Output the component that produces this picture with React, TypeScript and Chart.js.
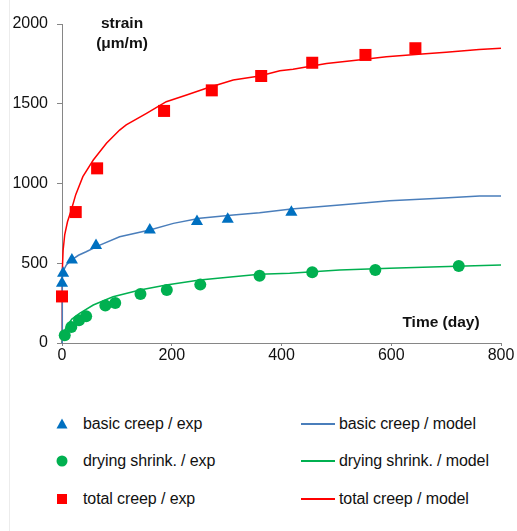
import { useEffect, useRef } from "react";
import { Chart, registerables } from "chart.js";

Chart.register(...registerables);

// Measured strains (µm/m) against time (days)
const basicExpDays = [0, 2, 18, 62, 160, 246, 302, 418];
const basicExpStrain = [375, 437, 520, 612, 708, 761, 776, 820];

const dryingExpDays = [5, 17, 31, 44, 79, 97, 143, 191, 252, 360, 456, 571, 723];
const dryingExpStrain = [49, 100, 142, 168, 235, 251, 307, 332, 366, 421, 443, 458, 483];

const totalExpDays = [0, 25, 64, 186, 273, 363, 456, 553, 644];
const totalExpStrain = [292, 821, 1095, 1455, 1584, 1674, 1757, 1806, 1848];

// Model predictions
const basicModelDays = [0, 0.5, 2, 8, 17, 30, 44, 69, 105, 160, 203, 251, 312, 360, 418, 506, 597, 688, 761, 800];
const basicModelStrain = [0, 400, 450, 490, 520, 550, 572, 614, 666, 708, 750, 782, 802, 817, 840, 865, 892, 907, 922, 922];

const dryingModelDays = [0, 3, 8, 18, 32, 57, 93, 142, 190, 251, 312, 360, 415, 506, 597, 688, 800];
const dryingModelStrain = [0, 60, 102, 150, 186, 238, 290, 332, 364, 395, 416, 431, 437, 458, 468, 478, 489];

const totalModelDays = [0, 0.5, 2, 5, 10, 17, 25, 38, 57, 81, 105, 117, 154, 190, 227, 263, 312, 360, 397, 421, 482, 540, 591, 650, 700, 760, 800];
const totalModelStrain = [0, 450, 580, 680, 760, 834, 930, 1043, 1147, 1252, 1335, 1367, 1440, 1513, 1555, 1597, 1649, 1674, 1707, 1716, 1753, 1775, 1795, 1810, 1823, 1840, 1848];

const BLUE_MARK = "#0070C0";
const BLUE_LINE = "#4A7EBB";
const GREEN = "#00B050";
const RED = "#FF0000";

const FONT = '"Liberation Sans", Arial, sans-serif';

const toPoints = (xs: number[], ys: number[]) => xs.map((x, i) => ({ x, y: ys[i] }));

const axisTitles = {
  id: "axisTitles",
  afterDraw(chart: Chart) {
    const ctx = chart.ctx;
    ctx.save();
    ctx.font = `bold 15.5px ${FONT}`;
    ctx.fillStyle = "#111";
    ctx.textAlign = "center";
    ctx.textBaseline = "middle";
    ctx.fillText("strain", 122, 24);
    ctx.fillText("(μm/m)", 122, 44);
    ctx.fillText("Time (day)", 441, 323);
    ctx.restore();
  },
};

type Row = { exp: string; model: string; markColor: string; lineColor: string; shape: "triangle" | "circle" | "square"; cy: number };

const legendRows: Row[] = [
  { exp: "basic creep / exp", model: "basic creep / model", markColor: BLUE_MARK, lineColor: BLUE_LINE, shape: "triangle", cy: 424 },
  { exp: "drying shrink. / exp", model: "drying shrink. / model", markColor: GREEN, lineColor: GREEN, shape: "circle", cy: 461 },
  { exp: "total creep / exp", model: "total creep / model", markColor: RED, lineColor: RED, shape: "square", cy: 499 },
];

function Marker({ shape, color }: { shape: Row["shape"]; color: string }) {
  return (
    <svg width="12" height="12" viewBox="0 0 12 12" style={{ display: "block" }}>
      {shape === "triangle" && <polygon points="6,0.5 11.5,10.5 0.5,10.5" fill={color} />}
      {shape === "circle" && <circle cx="6" cy="6" r="5.5" fill={color} />}
      {shape === "square" && <rect x="1" y="1" width="10" height="10" fill={color} />}
    </svg>
  );
}

export default function App() {
  const canvasRef = useRef<HTMLCanvasElement | null>(null);

  useEffect(() => {
    if (!canvasRef.current) return;
    const tickFont = { family: FONT, size: 16 };
    const plain = (v: number | string) => String(v);
    const chart = new Chart(canvasRef.current, {
      type: "scatter",
      data: {
        datasets: [
          {
            label: "basic creep / exp",
            data: toPoints(basicExpDays, basicExpStrain),
            pointStyle: "triangle",
            pointRadius: 7,
            backgroundColor: BLUE_MARK,
            borderColor: BLUE_MARK,
            borderWidth: 0,
            clip: false,
            order: 0,
          },
          {
            label: "drying shrink. / exp",
            data: toPoints(dryingExpDays, dryingExpStrain),
            pointStyle: "circle",
            pointRadius: 6,
            backgroundColor: GREEN,
            borderColor: GREEN,
            borderWidth: 0,
            clip: false,
            order: 0,
          },
          {
            label: "total creep / exp",
            data: toPoints(totalExpDays, totalExpStrain),
            pointStyle: "rect",
            pointRadius: 8.5,
            backgroundColor: RED,
            borderColor: RED,
            borderWidth: 0,
            clip: false,
            order: 0,
          },
          {
            label: "basic creep / model",
            data: toPoints(basicModelDays, basicModelStrain),
            showLine: true,
            pointRadius: 0,
            borderColor: BLUE_LINE,
            borderWidth: 1.5,
            clip: false,
            order: 1,
          },
          {
            label: "drying shrink. / model",
            data: toPoints(dryingModelDays, dryingModelStrain),
            showLine: true,
            pointRadius: 0,
            borderColor: GREEN,
            borderWidth: 1.5,
            clip: false,
            order: 1,
          },
          {
            label: "total creep / model",
            data: toPoints(totalModelDays, totalModelStrain),
            showLine: true,
            pointRadius: 0,
            borderColor: RED,
            borderWidth: 1.5,
            clip: false,
            order: 1,
          },
        ],
      },
      options: {
        responsive: false,
        animation: false,
        devicePixelRatio: 1,
        layout: { padding: { top: 24, right: 16, left: 0, bottom: 0 } },
        plugins: { legend: { display: false }, tooltip: { enabled: false } },
        scales: {
          x: {
            type: "linear",
            min: 0,
            max: 800,
            ticks: { stepSize: 200, color: "#111", font: tickFont, padding: 0, maxRotation: 0, callback: plain },
            grid: { drawOnChartArea: false, drawTicks: true, tickLength: 3, color: "#868686" },
            border: { color: "#868686", width: 1 },
            afterFit(scale: any) {
              scale.height = 37;
            },
          },
          y: {
            type: "linear",
            min: 0,
            max: 2000,
            ticks: { stepSize: 500, color: "#111", font: tickFont, padding: 9, callback: plain },
            grid: { drawOnChartArea: false, drawTicks: true, tickLength: 5, color: "#868686" },
            border: { color: "#868686", width: 1 },
            afterFit(scale: any) {
              scale.width = 62;
            },
          },
        },
      },
      plugins: [axisTitles],
    });
    return () => chart.destroy();
  }, []);

  return (
    <div style={{ position: "absolute", left: 0, top: 0, width: 517, height: 531, background: "#fff", fontFamily: FONT }}>
      <div style={{ position: "absolute", left: 9, top: 0, width: 1, height: 531, background: "#ececec" }} />
      <canvas ref={canvasRef} width={517} height={380} style={{ position: "absolute", left: 0, top: 0 }} />
      {legendRows.map((row) => (
        <div key={row.exp}>
          <div style={{ position: "absolute", left: 56, top: row.cy - 6 }}>
            <Marker shape={row.shape} color={row.markColor} />
          </div>
          <div style={{ position: "absolute", left: 83, top: row.cy - 11, fontSize: 16, lineHeight: "22px", color: "#111", whiteSpace: "nowrap", letterSpacing: -0.1 }}>
            {row.exp}
          </div>
          <div style={{ position: "absolute", left: 301, top: row.cy - 1, width: 34, height: 2, background: row.lineColor }} />
          <div style={{ position: "absolute", left: 339, top: row.cy - 11, fontSize: 16, lineHeight: "22px", color: "#111", whiteSpace: "nowrap", letterSpacing: -0.1 }}>
            {row.model}
          </div>
        </div>
      ))}
    </div>
  );
}
